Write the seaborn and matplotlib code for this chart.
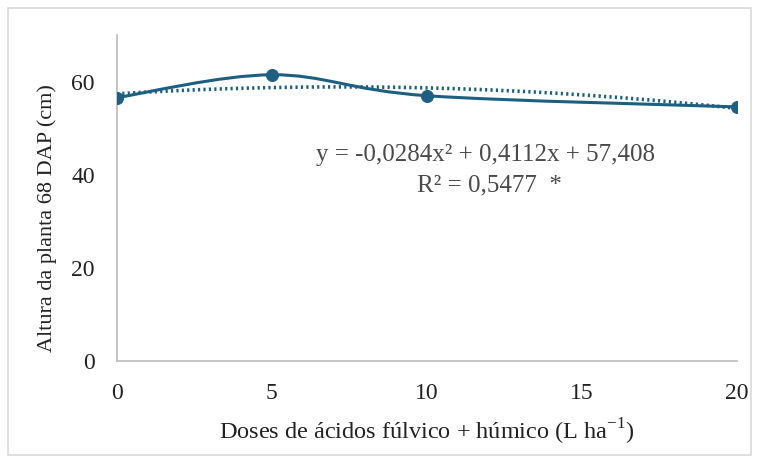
import numpy as np
import pandas as pd
import seaborn as sns
import matplotlib.pyplot as plt
from matplotlib.path import Path
from matplotlib.patches import PathPatch, Rectangle

# data
doses = [0, 5, 10, 20]
altura = [56.6, 61.5, 57.0, 54.6]
trend_coefs = [-0.0284, 0.4112, 57.408]  # quadratic trend shown on the chart
x_ticks = [0, 5, 10, 15, 20]
y_ticks = [0, 20, 40, 60]

LINE_COLOR = "#1d5f80"
TEXT_COLOR = "#4a4a4a"

sns.set_theme(style="white")
plt.rcParams["font.family"] = ["Liberation Serif", "DejaVu Serif"]
plt.rcParams["mathtext.fontset"] = "custom"
plt.rcParams["mathtext.rm"] = "Liberation Serif"

df = pd.DataFrame({"dose": doses, "altura": altura})

fig = plt.figure(figsize=(7.59, 4.63), dpi=100)
ax = fig.add_axes([0.154, 0.22, 0.817, 0.704])

# smoothed line through the points (Excel style bezier)
pts = np.column_stack([doses, altura]).astype(float)
verts = [tuple(pts[0])]
codes = [Path.MOVETO]
for i in range(len(pts) - 1):
    p0 = pts[i - 1] if i > 0 else pts[i]
    p1, p2 = pts[i], pts[i + 1]
    p3 = pts[i + 2] if i + 2 < len(pts) else pts[i + 1]
    c1 = p1 + (p2 - p0) / 6
    c2 = p2 - (p3 - p1) / 6
    verts += [tuple(c1), tuple(c2), tuple(p2)]
    codes += [Path.CURVE4] * 3
ax.add_patch(PathPatch(Path(verts, codes), facecolor="none",
                       edgecolor=LINE_COLOR, lw=2.2, zorder=3))

sns.scatterplot(data=df, x="dose", y="altura", ax=ax, color=LINE_COLOR,
                s=75, edgecolor=LINE_COLOR, zorder=4, legend=False)

# polynomial trend line
xt = np.linspace(min(doses), max(doses), 200)
ax.plot(xt, np.polyval(trend_coefs, xt), color=LINE_COLOR, lw=2.6,
        ls=(0, (0.6, 0.9)), zorder=2)

ax.set_xlim(0, 20)
ax.set_ylim(0, 70)
ax.set_xticks(x_ticks)
ax.set_yticks(y_ticks)
ax.tick_params(axis="both", length=0, labelsize=17, colors="#222222")
ax.tick_params(axis="x", pad=16)
ax.tick_params(axis="y", pad=16)

for side in ["top", "right"]:
    ax.spines[side].set_visible(False)
for side in ["left", "bottom"]:
    ax.spines[side].set_color("#c0c0c0")
    ax.spines[side].set_linewidth(1.3)

ax.set_xlabel(r"Doses de ácidos fúlvico + húmico (L ha$^{\mathregular{-1}}$)",
              fontsize=17.5, color="#222222", labelpad=9)
ax.set_ylabel("Altura da planta 68 DAP (cm)", fontsize=16,
              color="#222222")
ax.yaxis.set_label_coords(-0.097, 0.44)

ax.text(11.9, 44.3, "y = -0,0284x² + 0,4112x + 57,408", fontsize=18,
        color=TEXT_COLOR, ha="center", va="center")
ax.text(12.0, 37.8, "R² = 0,5477  *", fontsize=18,
        color=TEXT_COLOR, ha="center", va="center")

# outer frame
fig.patches.append(Rectangle((0.011, 0.017), 0.979, 0.966, transform=fig.transFigure,
                             fill=False, edgecolor="#d9d9d9", lw=1.2))

fig.savefig("out.png", dpi=100)
